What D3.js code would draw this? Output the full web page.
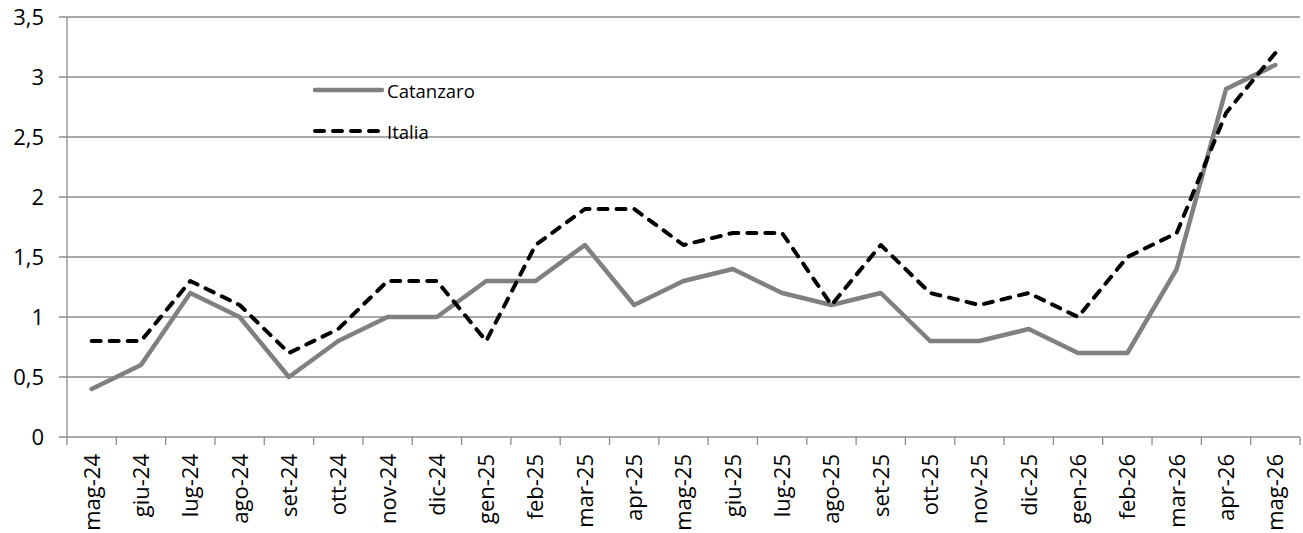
<!DOCTYPE html>
<html lang="it">
<head>
<meta charset="UTF-8" />
<title>Catanzaro vs Italia</title>
<script src="https://d3js.org/d3.v7.min.js"></script>
<style>
  body { margin: 0; background: #fff; font-family: "Open Sans", "Liberation Sans", sans-serif; }
  svg text { fill: #000; }
</style>
</head>
<body>
<svg id="chart" width="1303" height="533"></svg>
<script>
const months = ["mag-24","giu-24","lug-24","ago-24","set-24","ott-24","nov-24","dic-24",
  "gen-25","feb-25","mar-25","apr-25","mag-25","giu-25","lug-25","ago-25","set-25",
  "ott-25","nov-25","dic-25","gen-26","feb-26","mar-26","apr-26","mag-26"];
const catanzaro = [0.4,0.6,1.2,1.0,0.5,0.8,1.0,1.0,1.3,1.3,1.6,1.1,1.3,1.4,1.2,1.1,1.2,0.8,0.8,0.9,0.7,0.7,1.4,2.9,3.1];
const italia = [0.8,0.8,1.3,1.1,0.7,0.9,1.3,1.3,0.8,1.6,1.9,1.9,1.6,1.7,1.7,1.1,1.6,1.2,1.1,1.2,1.0,1.5,1.7,2.7,3.2];
const yTicks = [0,0.5,1,1.5,2,2.5,3,3.5];

const svg = d3.select("#chart");
const plotLeft = 67, plotRight = 1300, plotTop = 17, plotBottom = 437;

const x = d3.scaleBand().domain(months).range([plotLeft, plotRight]);
const y = d3.scaleLinear().domain([0, 3.5]).range([plotBottom, plotTop]);
const fmt = d => String(d).replace(".", ",");

// gridlines
svg.append("g").selectAll("line")
  .data(yTicks)
  .join("line")
  .attr("x1", plotLeft - 8).attr("x2", plotRight)
  .attr("y1", d => y(d)).attr("y2", d => y(d))
  .attr("stroke", "#8c8c8c").attr("stroke-width", 1.3);

// y labels
svg.append("g").selectAll("text")
  .data(yTicks)
  .join("text")
  .attr("x", 44).attr("y", d => y(d))
  .attr("dy", "0.38em")
  .attr("text-anchor", "end")
  .style("font-size", "22px")
  .text(fmt);

// y axis line
svg.append("line")
  .attr("x1", plotLeft).attr("x2", plotLeft).attr("y1", plotTop).attr("y2", plotBottom)
  .attr("stroke", "#8c8c8c").attr("stroke-width", 1.3);

// x tick marks (at band edges)
const edges = months.map(m => x(m)).concat([plotRight]);
svg.append("g").selectAll("line")
  .data(edges)
  .join("line")
  .attr("x1", d => d).attr("x2", d => d)
  .attr("y1", plotBottom).attr("y2", plotBottom + 8)
  .attr("stroke", "#8c8c8c").attr("stroke-width", 1.3);

// x labels
svg.append("g").selectAll("text")
  .data(months)
  .join("text")
  .attr("transform", d => `translate(${x(d) + x.bandwidth() / 2},${plotBottom + 17}) rotate(-90)`)
  .attr("dy", "0.36em")
  .attr("text-anchor", "end")
  .style("font-size", "22px")
  .text(d => d);

const line = d3.line()
  .x((d, i) => x(months[i]) + x.bandwidth() / 2)
  .y(d => y(d));

svg.append("path")
  .datum(catanzaro)
  .attr("d", line)
  .attr("fill", "none")
  .attr("stroke", "#808080")
  .attr("stroke-width", 4.5)
  .attr("stroke-linejoin", "round")
  .attr("stroke-linecap", "round");

svg.append("path")
  .datum(italia)
  .attr("d", line)
  .attr("fill", "none")
  .attr("stroke", "#000")
  .attr("stroke-width", 4)
  .attr("stroke-dasharray", "9,9")
  .attr("stroke-linejoin", "round")
  .attr("stroke-linecap", "round");

// legend
const legend = [
  { name: "Catanzaro", color: "#808080", dash: null, w: 4.5, yPos: 90, base: 98 },
  { name: "Italia", color: "#000", dash: "9,9", w: 4, yPos: 131, base: 139 }
];
const lg = svg.append("g").selectAll("g").data(legend).join("g");
lg.append("line")
  .attr("x1", 315).attr("x2", 382)
  .attr("y1", d => d.yPos).attr("y2", d => d.yPos)
  .attr("stroke", d => d.color)
  .attr("stroke-width", d => d.w)
  .attr("stroke-dasharray", d => d.dash)
  .attr("stroke-linecap", "round");
lg.append("text")
  .attr("x", 387).attr("y", d => d.base)
  .style("font-size", "18.5px")
  .text(d => d.name);
</script>
</body>
</html>
